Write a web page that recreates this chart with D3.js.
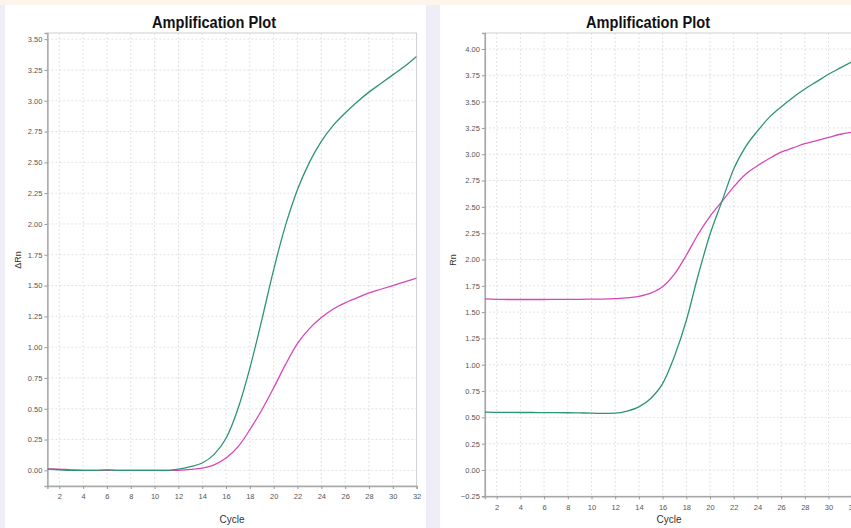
<!DOCTYPE html>
<html><head><meta charset="utf-8">
<script src="https://cdn.jsdelivr.net/npm/d3@7"></script>
<style>html,body{margin:0;padding:0;background:#efeef8;}svg{display:block;}</style>
</head><body>
<svg id="c" width="851" height="528"></svg>
<script>
const cycles = d3.range(1, 33);
// Left panel: ΔRn
const leftGreen = [0.01,0.005,0.0,0.0,0.0,0.004,0.0,0.0,0.0,0.0,0.0,0.01,0.03,0.06,0.13,0.26,0.50,0.83,1.22,1.63,1.99,2.28,2.50,2.67,2.80,2.90,2.99,3.07,3.14,3.21,3.28,3.36];
const leftPink  = [0.012,0.01,0.004,0.0,0.0,0.0,0.0,0.0,0.0,0.0,0.0,0.0,0.008,0.018,0.045,0.10,0.19,0.33,0.49,0.67,0.86,1.03,1.15,1.24,1.31,1.36,1.40,1.44,1.47,1.50,1.53,1.56];
// Right panel: Rn
const rightGreen = [0.55,0.548,0.547,0.546,0.546,0.545,0.545,0.544,0.542,0.54,0.537,0.54,0.56,0.60,0.68,0.82,1.08,1.42,1.85,2.24,2.55,2.86,3.07,3.22,3.35,3.45,3.54,3.62,3.69,3.76,3.82,3.88];
const rightPink  = [1.625,1.622,1.62,1.62,1.62,1.62,1.621,1.622,1.622,1.623,1.624,1.628,1.635,1.65,1.68,1.74,1.86,2.04,2.24,2.41,2.55,2.69,2.81,2.89,2.96,3.02,3.06,3.10,3.13,3.16,3.19,3.21];
const xTicks = d3.range(2, 33, 2);
const leftYTicks = d3.range(0, 3.51, 0.25);
const rightYTicks = d3.range(-0.25, 4.01, 0.25);
const title = "Amplification Plot";
const xLabel = "Cycle";
const leftYLabel = "ΔRn";
const rightYLabel = "Rn";
const greenColor = "#2f9474", pinkColor = "#d946b8";

const svg = d3.select("#c");
svg.append("rect").attr("width",851).attr("height",528).attr("fill","#efeef8");
svg.append("rect").attr("width",851).attr("height",5).attr("fill","#fdf5ec");
svg.append("rect").attr("x",5).attr("y",5).attr("width",421).attr("height",523).attr("fill","#ffffff");
svg.append("rect").attr("x",440).attr("y",5).attr("width",411).attr("height",523).attr("fill","#ffffff");

function panel(cfg){
  const g = svg.append("g");
  const x = d3.scaleLinear().domain(cfg.xDomain).range(cfg.xRange);
  const y = d3.scaleLinear().domain(cfg.yDomain).range(cfg.yRange);
  const [x0,x1] = cfg.xRange, [y0,y1] = cfg.yRange;
  // grid
  g.append("g").selectAll("line").data(cfg.xTicks).join("line")
    .attr("x1",d=>x(d)).attr("x2",d=>x(d)).attr("y1",y1).attr("y2",y0)
    .attr("stroke","#dcdcdc").attr("stroke-width",0.8).attr("stroke-dasharray","2,2");
  g.append("g").selectAll("line").data(cfg.yTicks).join("line")
    .attr("x1",x0).attr("x2",x1).attr("y1",d=>y(d)).attr("y2",d=>y(d))
    .attr("stroke","#dcdcdc").attr("stroke-width",0.8).attr("stroke-dasharray","2,2");
  // box
  g.append("rect").attr("x",x0).attr("y",y1).attr("width",x1-x0).attr("height",y0-y1)
    .attr("fill","none").attr("stroke","#d0d0d0").attr("stroke-width",1);
  // axes
  const ya = g.append("g").attr("transform",`translate(${x0},0)`)
    .call(d3.axisLeft(y).tickValues(cfg.yTicks).tickFormat(d3.format(".2f")).tickSize(3).tickPadding(2));
  const xa = g.append("g").attr("transform",`translate(0,${y0})`)
    .call(d3.axisBottom(x).tickValues(cfg.xTicks).tickFormat(d3.format("d")).tickSize(3).tickPadding(5));
  [ya,xa].forEach(a=>{
    a.select(".domain").attr("stroke","#a8a8a8").attr("stroke-width",1.5);
    a.selectAll(".tick line").attr("stroke","#999");
    a.selectAll("text").attr("fill","#555").attr("font-family","Liberation Sans, Arial, sans-serif").attr("font-size",7.5);
  });
  // lines
  const line = d3.line().x((d,i)=>x(cycles[i])).y(d=>y(d)).curve(d3.curveMonotoneX);
  const clipId = "clip"+cfg.id;
  g.append("clipPath").attr("id",clipId).append("rect").attr("x",x0).attr("y",y1).attr("width",x1-x0).attr("height",y0-y1);
  const lg = g.append("g").attr("clip-path",`url(#${clipId})`);
  lg.append("path").datum(cfg.pink).attr("d",line).attr("fill","none").attr("stroke",pinkColor).attr("stroke-width",1.3);
  lg.append("path").datum(cfg.green).attr("d",line).attr("fill","none").attr("stroke",greenColor).attr("stroke-width",1.3);
  // labels
  g.append("text").attr("x",cfg.titleX).attr("y",28).attr("text-anchor","middle")
    .attr("font-family","Liberation Sans, Arial, sans-serif").attr("font-weight","bold").attr("font-size",16)
    .attr("textLength",124).attr("lengthAdjust","spacingAndGlyphs").attr("fill","#111").text(title);
  g.append("text").attr("x",cfg.cycleX).attr("y",523).attr("text-anchor","middle")
    .attr("font-family","Liberation Sans, Arial, sans-serif").attr("font-size",10).attr("fill","#333").text(xLabel);
  g.append("text").attr("transform",`translate(${cfg.yLabelX},260) rotate(-90)`).attr("text-anchor","middle")
    .attr("font-family","Liberation Sans, Arial, sans-serif").attr("font-size",9).attr("fill","#333").text(cfg.yLabel);
}

panel({id:"L", xDomain:[1,32], xRange:[47.4,416.6], yDomain:[-0.127,3.55], yRange:[486,33],
  xTicks:xTicks, yTicks:leftYTicks, green:leftGreen, pink:leftPink, titleX:214, cycleX:232, yLabelX:21, yLabel:leftYLabel});
panel({id:"R", xDomain:[1,33], xRange:[484.85,864.05], yDomain:[-0.25,4.152], yRange:[496.3,33],
  xTicks:xTicks, yTicks:rightYTicks, green:rightGreen, pink:rightPink, titleX:648, cycleX:669, yLabelX:456, yLabel:rightYLabel});
</script>
</body></html>
